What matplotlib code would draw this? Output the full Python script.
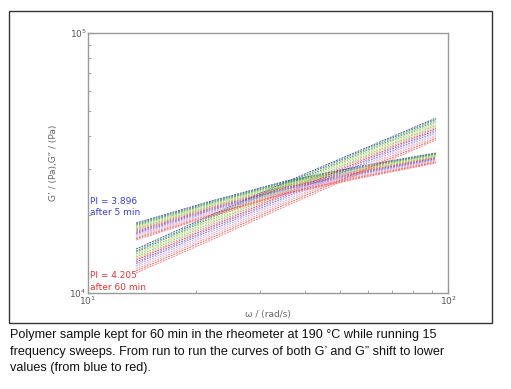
import matplotlib
matplotlib.use("Agg")
import matplotlib.pyplot as plt
from matplotlib.patches import Rectangle
from matplotlib import ticker

# angular frequency (rad/s)
omega = [13.6, 22.0, 35.5, 57.3, 92.6]

# storage modulus G' (Pa), one row per sweep, run 1 (5 min) -> run 15 (60 min)
g_storage = [
    [14760, 19950, 26730, 35480, 47110],
    [14520, 19690, 26390, 35050, 46550],
    [14350, 19420, 26000, 34560, 45900],
    [14130, 19120, 25640, 34100, 45320],
    [13950, 18850, 25300, 33620, 44720],
    [13750, 18580, 24920, 33150, 44150],
    [13530, 18290, 24550, 32700, 43520],
    [13350, 18010, 24180, 32220, 42950],
    [13140, 17740, 23820, 31750, 42380],
    [12960, 17460, 23440, 31260, 41750],
    [12750, 17160, 23080, 30800, 41150],
    [12550, 16880, 22700, 30330, 40550],
    [12340, 16580, 22350, 29870, 39960],
    [12150, 16290, 21980, 29400, 39350],
    [11940, 15990, 21610, 28940, 38770],
]

# loss modulus G'' (Pa)
g_loss = [
    [18590, 22590, 26970, 30790, 34550],
    [18400, 22390, 26760, 30570, 34340],
    [18220, 22190, 26550, 30350, 34130],
    [18030, 21990, 26340, 30130, 33920],
    [17850, 21790, 26130, 29900, 33720],
    [17660, 21590, 25920, 29680, 33510],
    [17480, 21390, 25710, 29460, 33300],
    [17290, 21190, 25500, 29240, 33090],
    [17100, 20990, 25290, 29020, 32880],
    [16920, 20790, 25080, 28800, 32670],
    [16730, 20580, 24870, 28580, 32460],
    [16550, 20380, 24660, 28360, 32250],
    [16360, 20180, 24450, 28130, 32040],
    [16180, 19980, 24240, 27910, 31830],
    [15990, 19780, 24030, 27690, 31620],
]

run_colors = ['#2b3f9e', '#2a7f6f', '#3c9a3c', '#8fbf4f', '#c8c86a',
              '#6fbf6f', '#d98c5f', '#c04060', '#9a4fa0', '#7070d8',
              '#b0a0e8', '#e8a0c0', '#f09090', '#e05050', '#ff6a6a']

caption = ("Polymer sample kept for 60 min in the rheometer at 190 \u00b0C while running 15\n"
           "frequency sweeps. From run to run the curves of both G\u2019 and G\u201d shift to lower\n"
           "values (from blue to red).")

W, H = 511, 389
fig = plt.figure(figsize=(W / 100, H / 100), dpi=100, facecolor='w')

# frame around the chart
fig.add_artist(Rectangle((9 / W, 1 - 323 / H), 483 / W, 312 / H, transform=fig.transFigure,
                         fill=False, edgecolor='#333333', lw=1.0))

ax = fig.add_axes([88 / W, 1 - 293 / H, 360 / W, 260 / H])
for gs, gl, c in zip(g_storage, g_loss, run_colors):
    ax.plot(omega, gs, color=c, lw=0.7, ls=(0, (2, 1)), alpha=0.85)
    ax.plot(omega, gl, color=c, lw=0.7, ls=(0, (2, 1)), alpha=0.85)

ax.set_xscale('log')
ax.set_yscale('log')
ax.set_xlim(10, 100)
ax.set_ylim(1e4, 1e5)
ax.xaxis.set_major_locator(ticker.FixedLocator([10, 100]))
ax.yaxis.set_major_locator(ticker.FixedLocator([1e4, 1e5]))
ax.xaxis.set_major_formatter(ticker.FixedFormatter([r'$10^1$', r'$10^2$']))
ax.yaxis.set_major_formatter(ticker.FixedFormatter([r'$10^4$', r'$10^5$']))
ax.xaxis.set_minor_formatter(ticker.NullFormatter())
ax.yaxis.set_minor_formatter(ticker.NullFormatter())
ax.tick_params(which='both', direction='in', colors='#999999', labelcolor='#555555',
               labelsize=6.5, pad=1)
ax.tick_params(which='major', length=4)
ax.tick_params(which='minor', length=2)
for spine in ax.spines.values():
    spine.set_color('#999999')
    spine.set_linewidth(1.0)

ax.set_xlabel('\u03c9 / (rad/s)', fontsize=6.5, color='#666666', labelpad=2)
ax.set_ylabel('G\u2019 / (Pa),G\u201d / (Pa)', fontsize=6.5, color='#666666', labelpad=8)

ax.text(0.005, 0.37, 'PI = 3.896\nafter 5 min', transform=ax.transAxes, color='#3a3ae8',
        fontsize=6.5, va='top', ha='left', linespacing=1.3)
ax.text(0.005, 0.083, 'PI = 4.205\nafter 60 min', transform=ax.transAxes, color='#ee3333',
        fontsize=6.5, va='top', ha='left', linespacing=1.3)

fig.text(10 / W, 1 - 329 / H, caption, fontsize=9.1, va='top', ha='left', color='#111111',
         family=['Liberation Sans', 'DejaVu Sans'], linespacing=1.5)

plt.savefig('out.png', dpi=100, facecolor='w')
